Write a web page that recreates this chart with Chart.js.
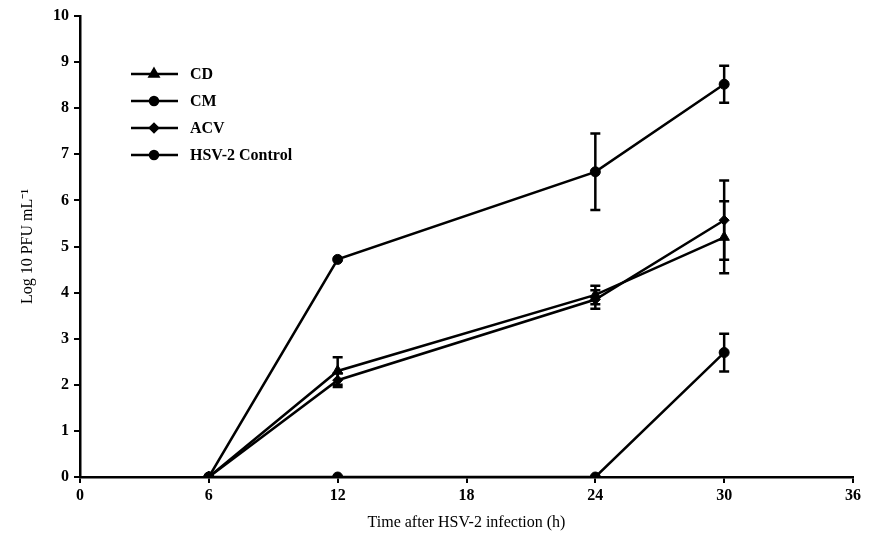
<!DOCTYPE html>
<html lang="en">
<head>
    <meta charset="UTF-8">
    <title>HSV-2 yield over time</title>
    <script src="https://cdn.jsdelivr.net/npm/chart.js"></script>
    <style>
        body {
            margin: 0;
            background-color: #fff;
        }
        #chart-container {
            width: 870px;
            height: 534px;
        }
    </style>
</head>
<body>

<div id="chart-container">
    <canvas id="pfuChart"></canvas>
</div>

<script>
    // values
    var hours = [6, 12, 24, 30];
    var cdValues = [0, 2.3, 3.95, 5.2];
    var cdErrors = [0, 0.3, 0.2, 0.78];
    var cmValues = [0, 0, 0, 2.7];
    var cmErrors = [0, 0, 0, 0.41];
    var acvValues = [0, 2.1, 3.85, 5.57];
    var acvErrors = [0, 0.15, 0.2, 0.86];
    var controlValues = [0, 4.72, 6.62, 8.52];
    var controlErrors = [0, 0, 0.83, 0.4];
    var xTicks = [0, 6, 12, 18, 24, 30, 36];
    var yTicks = [0, 1, 2, 3, 4, 5, 6, 7, 8, 9, 10];

    var seriesNames = ['CD', 'CM', 'ACV', 'HSV-2 Control'];
    var seriesMarkers = ['triangle', 'circle', 'rectRot', 'circle'];

    function toPoints(values) {
        var pts = [];
        for (var i = 0; i < hours.length; i++) {
            pts.push({ x: hours[i], y: values[i] });
        }
        return pts;
    }

    function makeSet(idx, values, errors) {
        return {
            label: seriesNames[idx],
            data: toPoints(values),
            errors: errors,
            borderColor: '#000',
            backgroundColor: '#000',
            borderWidth: 2.5,
            pointStyle: seriesMarkers[idx],
            pointRadius: seriesMarkers[idx] === 'triangle' ? 6 : 5,
            pointBorderWidth: 1,
            tension: 0
        };
    }

    // error bars, drawn through the chart's own scales
    var errorBars = {
        id: 'errorBars',
        afterDatasetsDraw: function (chart) {
            var ctx = chart.ctx;
            var xs = chart.scales.x, ys = chart.scales.y;
            ctx.save();
            ctx.strokeStyle = '#000';
            ctx.lineWidth = 2.5;
            chart.data.datasets.forEach(function (ds) {
                ds.data.forEach(function (p, i) {
                    var e = ds.errors[i];
                    if (!e) return;
                    var px = xs.getPixelForValue(p.x);
                    var top = ys.getPixelForValue(p.y + e);
                    var bot = ys.getPixelForValue(p.y - e);
                    ctx.beginPath();
                    ctx.moveTo(px, top); ctx.lineTo(px, bot);
                    ctx.moveTo(px - 5, top); ctx.lineTo(px + 5, top);
                    ctx.moveTo(px - 5, bot); ctx.lineTo(px + 5, bot);
                    ctx.stroke();
                });
            });
            ctx.restore();
        }
    };

    // legend sits inside the plot, top left
    var insideLegend = {
        id: 'insideLegend',
        afterDraw: function (chart) {
            var ctx = chart.ctx;
            ctx.save();
            ctx.font = 'bold 16px "Liberation Serif"';
            ctx.textBaseline = 'middle';
            ctx.fillStyle = '#000';
            chart.data.datasets.forEach(function (ds, i) {
                var y = 74 + i * 27;
                ctx.strokeStyle = '#000';
                ctx.lineWidth = 2.5;
                ctx.beginPath();
                ctx.moveTo(131, y); ctx.lineTo(178, y);
                ctx.stroke();
                Chart.helpers.drawPoint(ctx, {
                    pointStyle: ds.pointStyle,
                    radius: ds.pointRadius - 1,
                    borderWidth: 1,
                    rotation: 0
                }, 154, y);
                ctx.fillStyle = '#000';
                ctx.fill();
                ctx.fillText(ds.label, 190, y + 1);
            });
            ctx.restore();
        }
    };

    var ctx = document.getElementById('pfuChart').getContext('2d');
    var pfuChart = new Chart(ctx, {
        type: 'line',
        data: {
            datasets: [
                makeSet(0, cdValues, cdErrors),
                makeSet(1, cmValues, cmErrors),
                makeSet(2, acvValues, acvErrors),
                makeSet(3, controlValues, controlErrors)
            ]
        },
        options: {
            responsive: true,
            maintainAspectRatio: false,
            animation: false,
            layout: { padding: { left: 0, right: 17, top: 16, bottom: 0 } },
            plugins: {
                legend: { display: false },
                tooltip: { enabled: false }
            },
            scales: {
                x: {
                    type: 'linear',
                    min: 0,
                    max: 36,
                    afterBuildTicks: function (axis) {
                        axis.ticks = xTicks.map(function (v) { return { value: v }; });
                    },
                    afterFit: function (axis) { axis.height = 57; },
                    grid: { drawOnChartArea: false, drawTicks: true, tickLength: 6, color: '#000', lineWidth: 2 },
                    border: { color: '#000', width: 2.5 },
                    ticks: {
                        color: '#000',
                        padding: 3,
                        maxRotation: 0,
                        font: { family: 'Liberation Serif', size: 16, weight: 'bold' }
                    },
                    title: {
                        display: true,
                        text: 'Time after HSV-2 infection (h)',
                        color: '#000',
                        padding: { top: 2, bottom: 2 },
                        font: { family: 'Liberation Serif', size: 16 }
                    }
                },
                y: {
                    min: 0,
                    max: 10,
                    afterBuildTicks: function (axis) {
                        axis.ticks = yTicks.map(function (v) { return { value: v }; });
                    },
                    afterFit: function (axis) { axis.width = 80; },
                    grid: { drawOnChartArea: false, drawTicks: true, tickLength: 6, color: '#000', lineWidth: 2 },
                    border: { color: '#000', width: 2.5 },
                    ticks: {
                        color: '#000',
                        padding: 5,
                        font: { family: 'Liberation Serif', size: 16, weight: 'bold' }
                    },
                    title: {
                        display: true,
                        text: 'Log 10 PFU mL\u207B\u00B9',
                        color: '#000',
                        padding: { top: 18, bottom: 0 },
                        font: { family: 'Liberation Serif', size: 16 }
                    }
                }
            }
        },
        plugins: [errorBars, insideLegend]
    });
</script>

</body>
</html>
